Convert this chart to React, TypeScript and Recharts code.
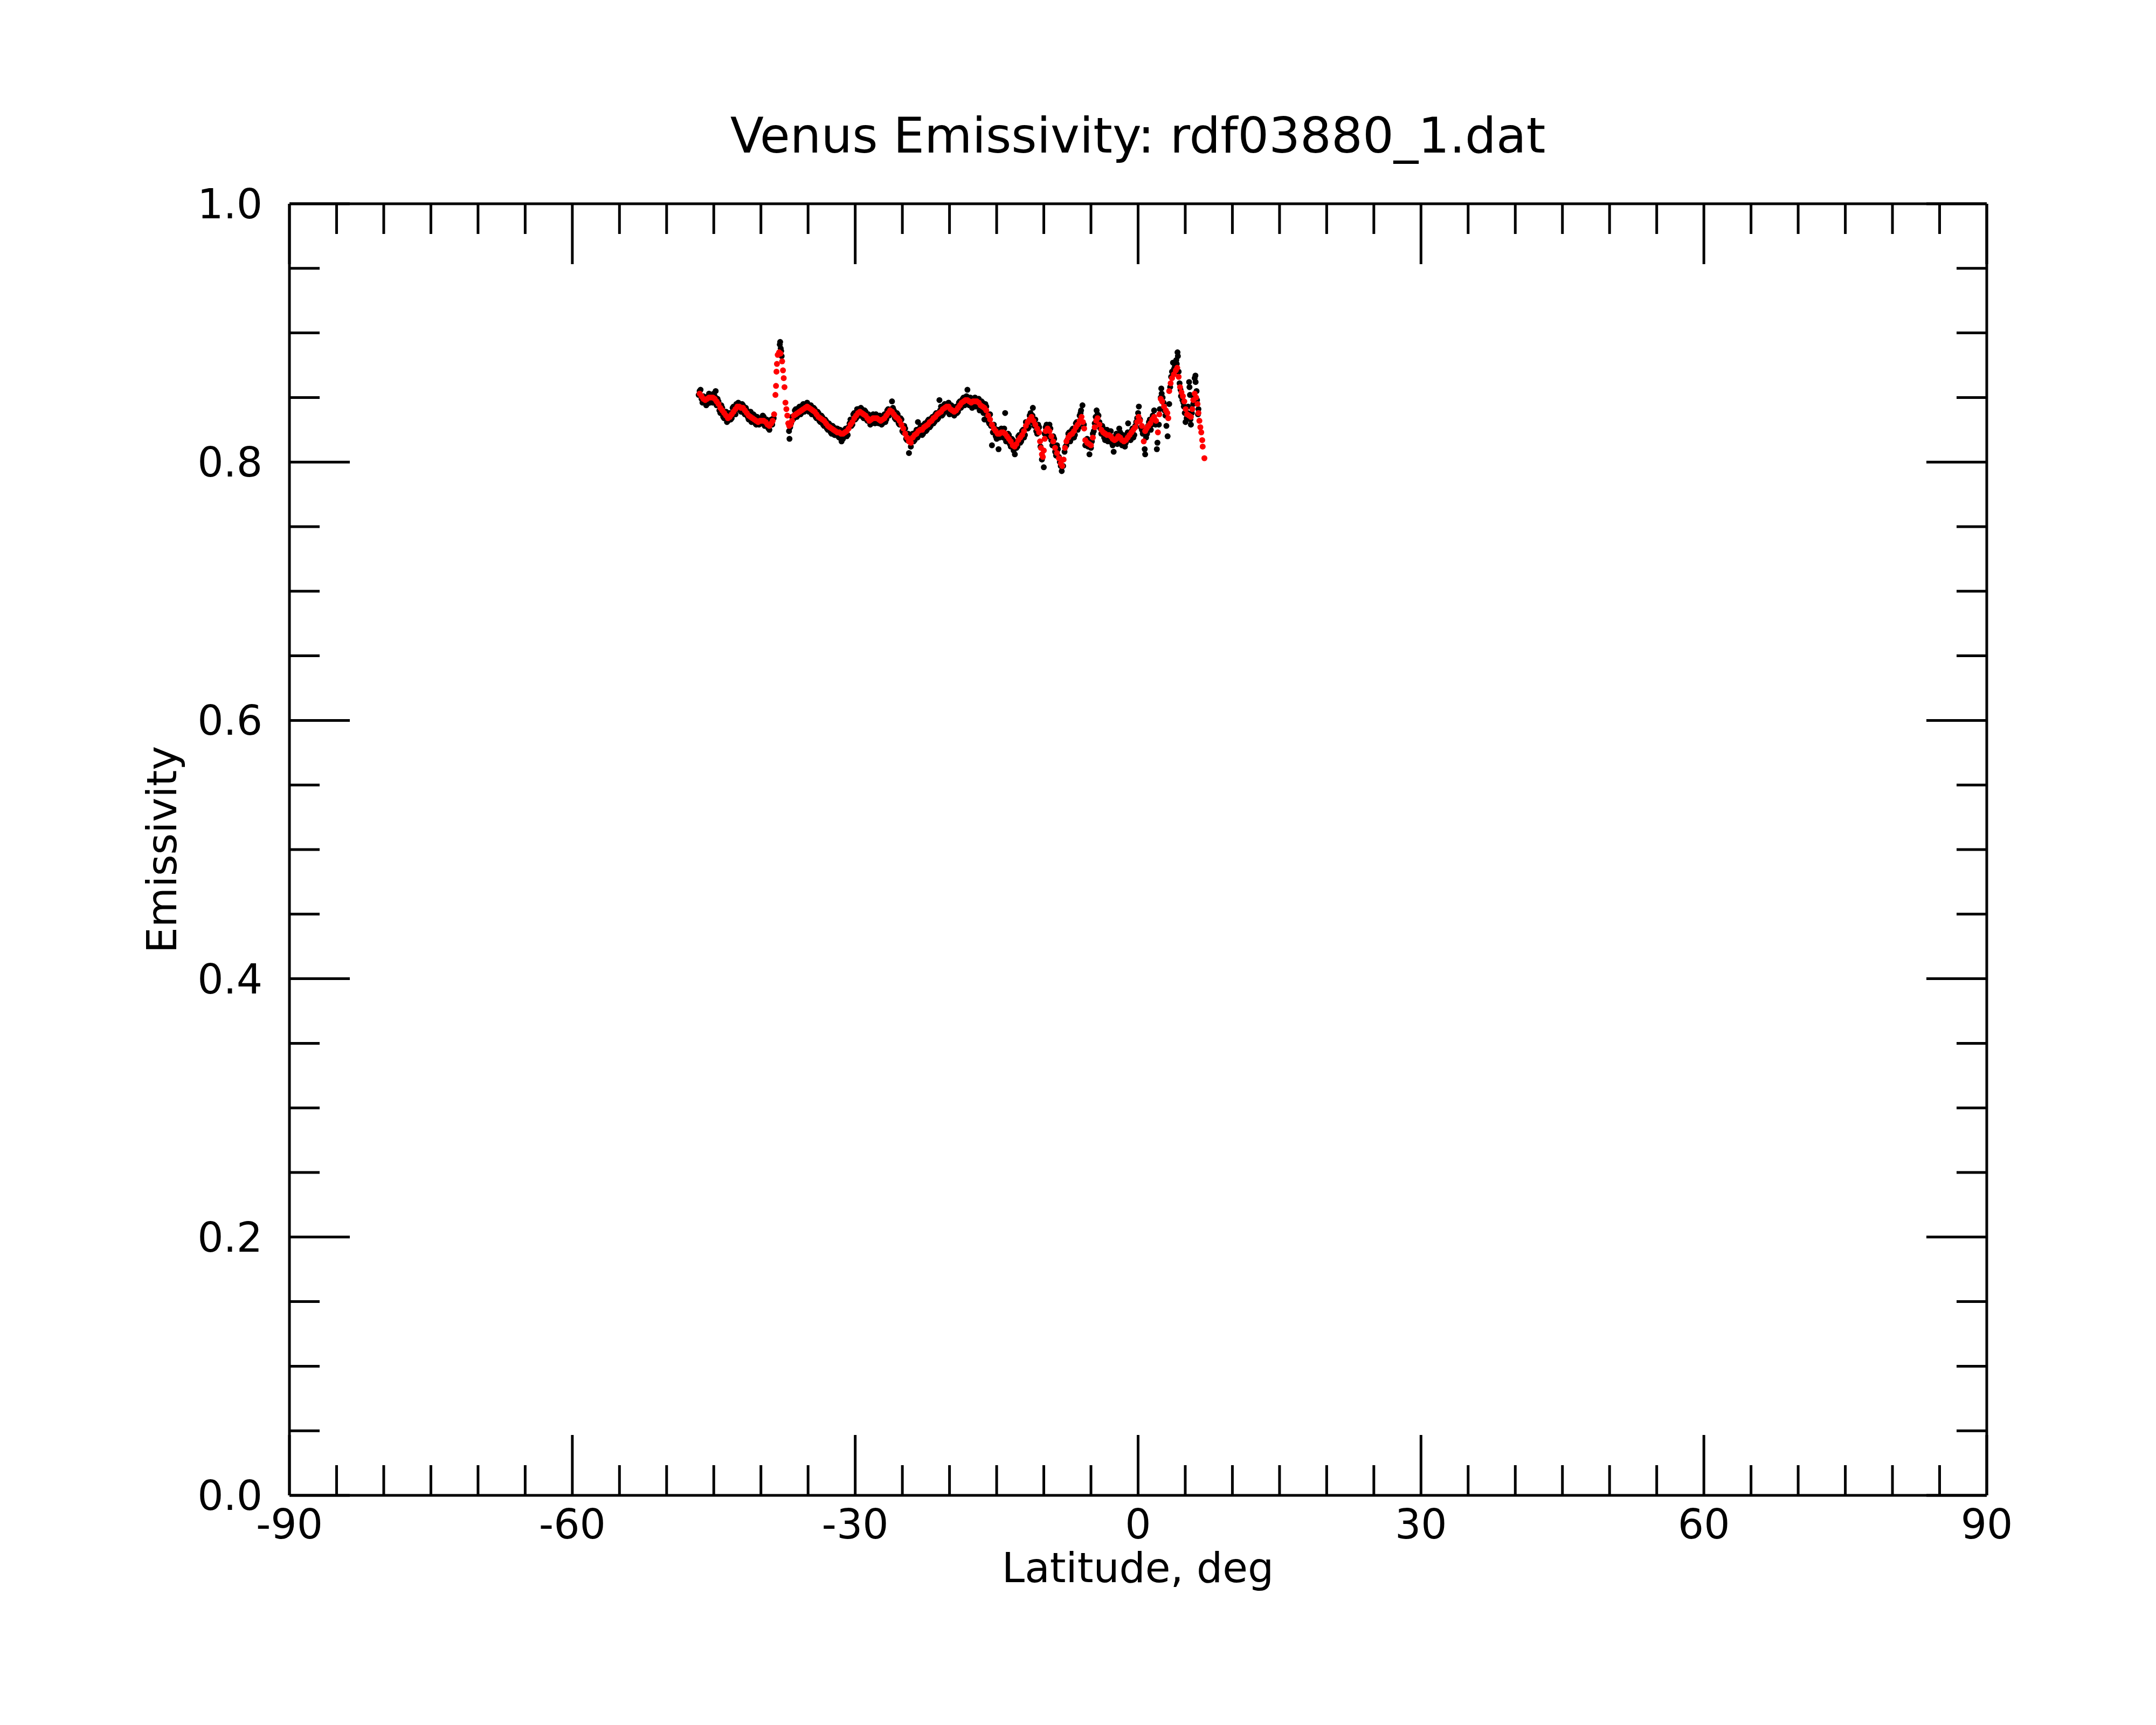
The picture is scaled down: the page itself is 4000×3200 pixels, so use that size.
import { ScatterChart, Scatter, XAxis, YAxis } from 'recharts'

const chartTitle = 'Venus Emissivity: rdf03880_1.dat'
const xTitle = 'Latitude, deg'
const yTitle = 'Emissivity'

const latMajorTicks = [-90, -60, -30, 0, 30, 60, 90]
const latMinorTicks = [
  -85, -80, -75, -70, -65, -55, -50, -45, -40, -35, -25, -20, -15, -10, -5,
  5, 10, 15, 20, 25, 35, 40, 45, 50, 55, 65, 70, 75, 80, 85,
]
const emisMajorTicks = [0, 0.2, 0.4, 0.6, 0.8, 1.0]
const emisMinorTicks = [
  0.05, 0.1, 0.15, 0.25, 0.3, 0.35, 0.45, 0.5, 0.55, 0.65, 0.7, 0.75, 0.85, 0.9, 0.95,
]

// raw emissivity samples (black)
const rawPoints: [number, number][] = [
  [-46.6, 0.852], [-46.5, 0.855], [-46.4, 0.856], [-46.2, 0.846], [-46.0, 0.847], [-45.8, 0.844],
  [-45.6, 0.851], [-45.4, 0.846], [-45.2, 0.848], [-45.0, 0.853], [-44.8, 0.855], [-44.6, 0.849],
  [-44.4, 0.840], [-44.2, 0.844], [-44.0, 0.835], [-43.8, 0.838], [-43.6, 0.831], [-43.4, 0.837],
  [-43.2, 0.833], [-43.0, 0.842], [-42.8, 0.838], [-42.6, 0.845], [-42.4, 0.846], [-42.2, 0.840],
  [-42.0, 0.845], [-41.8, 0.838], [-41.6, 0.842], [-41.4, 0.835], [-41.2, 0.838], [-41.0, 0.831],
  [-40.8, 0.837], [-40.6, 0.830], [-40.4, 0.835], [-40.2, 0.829], [-40.0, 0.834], [-39.8, 0.836],
  [-39.6, 0.828], [-39.4, 0.833], [-39.2, 0.826], [-39.0, 0.832], [-38.8, 0.829], [-38.65, 0.834],
  [-38.0, 0.891], [-37.96, 0.893], [-37.9, 0.888], [-37.85, 0.886], [-37.8, 0.882],
  [-37.02, 0.824], [-36.97, 0.818], [-36.8, 0.830], [-36.6, 0.833], [-36.4, 0.840], [-36.2, 0.835],
  [-36.0, 0.842], [-35.8, 0.837], [-35.6, 0.844], [-35.4, 0.839], [-35.2, 0.845], [-35.0, 0.840],
  [-34.8, 0.843], [-34.6, 0.837], [-34.4, 0.842], [-34.2, 0.835], [-34.0, 0.839], [-33.8, 0.832],
  [-33.6, 0.836], [-33.4, 0.829], [-33.2, 0.833], [-33.0, 0.826], [-32.8, 0.830], [-32.6, 0.823],
  [-32.4, 0.828], [-32.2, 0.821], [-32.0, 0.826], [-31.8, 0.820], [-31.6, 0.825], [-31.45, 0.816],
  [-31.2, 0.820], [-31.0, 0.826], [-30.8, 0.821], [-30.6, 0.830], [-30.4, 0.828], [-30.2, 0.837],
  [-30.0, 0.833], [-29.8, 0.841], [-29.6, 0.836], [-29.4, 0.842], [-29.2, 0.835], [-29.0, 0.840],
  [-28.8, 0.833], [-28.6, 0.837], [-28.4, 0.829], [-28.2, 0.836], [-28.0, 0.831], [-27.8, 0.837],
  [-27.6, 0.832], [-27.4, 0.836], [-27.2, 0.829], [-27.0, 0.835], [-26.8, 0.831], [-26.6, 0.840],
  [-26.4, 0.836], [-26.1, 0.847], [-26.0, 0.842], [-25.8, 0.834], [-25.6, 0.838], [-25.4, 0.830],
  [-25.2, 0.834], [-25.0, 0.824], [-24.8, 0.828], [-24.6, 0.818], [-24.4, 0.822], [-24.3, 0.807],
  [-24.1, 0.812], [-23.9, 0.822], [-23.7, 0.817], [-23.5, 0.825], [-23.35, 0.831], [-23.2, 0.821],
  [-23.0, 0.828], [-22.8, 0.822], [-22.6, 0.830], [-22.4, 0.825], [-22.2, 0.833], [-22.0, 0.828],
  [-21.8, 0.835], [-21.6, 0.831], [-21.4, 0.838], [-21.2, 0.834], [-21.07, 0.848], [-20.9, 0.843],
  [-20.7, 0.837], [-20.5, 0.845], [-20.3, 0.840], [-20.1, 0.846], [-19.9, 0.838], [-19.7, 0.843],
  [-19.5, 0.836], [-19.3, 0.843], [-19.1, 0.839], [-18.9, 0.847], [-18.7, 0.843], [-18.5, 0.850],
  [-18.3, 0.845], [-18.1, 0.856], [-17.9, 0.844], [-17.7, 0.849], [-17.5, 0.843], [-17.3, 0.850],
  [-17.1, 0.844], [-16.9, 0.849], [-16.7, 0.841], [-16.5, 0.846], [-16.3, 0.833], [-16.1, 0.843],
  [-15.9, 0.832], [-15.7, 0.837], [-15.5, 0.813], [-15.3, 0.829], [-15.1, 0.820], [-14.9, 0.825],
  [-14.8, 0.810], [-14.5, 0.826], [-14.3, 0.819], [-14.1, 0.838], [-13.9, 0.817], [-13.7, 0.821],
  [-13.5, 0.812], [-13.3, 0.817], [-13.07, 0.806], [-12.9, 0.811], [-12.7, 0.820], [-12.5, 0.815],
  [-12.3, 0.824], [-12.1, 0.819], [-11.9, 0.831], [-11.7, 0.826], [-11.5, 0.836], [-11.3, 0.831],
  [-11.16, 0.842], [-10.9, 0.833], [-10.7, 0.822], [-10.5, 0.827], [-10.35, 0.812], [-10.2, 0.802],
  [-10.0, 0.796], [-9.9, 0.822], [-9.7, 0.829], [-9.5, 0.820], [-9.3, 0.826], [-9.1, 0.813],
  [-8.9, 0.818], [-8.7, 0.805], [-8.5, 0.810], [-8.3, 0.800], [-8.1, 0.793], [-7.95, 0.797],
  [-7.8, 0.808], [-7.6, 0.813], [-7.4, 0.822], [-7.2, 0.816], [-7.0, 0.825], [-6.8, 0.819],
  [-6.6, 0.830], [-6.4, 0.825], [-6.2, 0.836], [-6.05, 0.840], [-5.9, 0.844], [-5.75, 0.829],
  [-5.6, 0.813], [-5.4, 0.818], [-5.16, 0.806], [-5.0, 0.811], [-4.8, 0.822], [-4.6, 0.830],
  [-4.4, 0.840], [-4.2, 0.836], [-4.0, 0.826], [-3.8, 0.828], [-3.6, 0.819], [-3.4, 0.824],
  [-3.2, 0.816], [-3.0, 0.823], [-2.8, 0.815], [-2.59, 0.808], [-2.4, 0.820], [-2.2, 0.814],
  [-2.0, 0.826], [-1.8, 0.815], [-1.6, 0.821], [-1.4, 0.812], [-1.2, 0.819], [-1.06, 0.830],
  [-0.8, 0.817], [-0.6, 0.826], [-0.4, 0.821], [-0.2, 0.831], [0.0, 0.838], [0.08, 0.843],
  [0.3, 0.827], [0.5, 0.822], [0.7, 0.810], [0.75, 0.806], [0.95, 0.822], [1.15, 0.831],
  [1.35, 0.825], [1.55, 0.836], [1.7, 0.840], [1.85, 0.829], [1.99, 0.810], [2.05, 0.815],
  [2.3, 0.841], [2.46, 0.857], [2.5, 0.853], [2.7, 0.846], [2.9, 0.836], [3.0, 0.828],
  [3.13, 0.820], [3.3, 0.845], [3.5, 0.866], [3.7, 0.877], [3.9, 0.874], [4.05, 0.879],
  [4.18, 0.885], [4.22, 0.882], [4.4, 0.861], [4.55, 0.851], [4.7, 0.848], [4.85, 0.843],
  [5.03, 0.831], [5.15, 0.834], [5.3, 0.843], [5.41, 0.862], [5.45, 0.858], [5.6, 0.829],
  [5.7, 0.838], [5.85, 0.845], [6.0, 0.865], [6.08, 0.867], [6.1, 0.862], [6.25, 0.848],
  [6.4, 0.841],
  // in-between samples
  [-46.3, 0.849], [-46.1, 0.851], [-45.9, 0.846], [-45.7, 0.845], [-45.5, 0.853], [-45.3, 0.852],
  [-45.1, 0.846], [-44.9, 0.851], [-44.7, 0.844], [-44.5, 0.847], [-44.3, 0.838], [-44.1, 0.842],
  [-43.9, 0.834], [-43.7, 0.839], [-43.5, 0.832], [-43.3, 0.838], [-43.1, 0.834], [-42.9, 0.843],
  [-42.7, 0.837], [-42.5, 0.841], [-42.3, 0.845], [-42.1, 0.839], [-41.9, 0.844], [-41.7, 0.837],
  [-41.5, 0.840], [-41.3, 0.833], [-41.1, 0.839], [-40.9, 0.832], [-40.7, 0.836], [-40.5, 0.829],
  [-40.3, 0.834], [-40.1, 0.830], [-39.9, 0.830], [-39.7, 0.835], [-39.5, 0.828], [-39.3, 0.832],
  [-39.1, 0.825], [-38.9, 0.833],
  [-36.9, 0.827], [-36.7, 0.835], [-36.5, 0.834], [-36.3, 0.841], [-36.1, 0.836], [-35.9, 0.843],
  [-35.7, 0.838], [-35.5, 0.845], [-35.3, 0.840], [-35.1, 0.846], [-34.9, 0.839], [-34.7, 0.844],
  [-34.5, 0.838], [-34.3, 0.841], [-34.1, 0.834], [-33.9, 0.838], [-33.7, 0.831], [-33.5, 0.835],
  [-33.3, 0.828], [-33.1, 0.832], [-32.9, 0.825], [-32.7, 0.829], [-32.5, 0.822], [-32.3, 0.827],
  [-32.1, 0.821], [-31.9, 0.826], [-31.7, 0.819], [-31.5, 0.824], [-31.3, 0.818], [-31.1, 0.825],
  [-30.9, 0.820], [-30.7, 0.827], [-30.5, 0.833], [-30.3, 0.829], [-30.1, 0.838], [-29.9, 0.834],
  [-29.7, 0.841], [-29.5, 0.836], [-29.3, 0.841], [-29.1, 0.834], [-28.9, 0.839], [-28.7, 0.832],
  [-28.5, 0.836], [-28.3, 0.830], [-28.1, 0.837], [-27.9, 0.830], [-27.7, 0.836], [-27.5, 0.830],
  [-27.3, 0.835], [-27.1, 0.830], [-26.9, 0.837], [-26.7, 0.833], [-26.5, 0.841], [-26.3, 0.837],
  [-25.9, 0.840], [-25.7, 0.833], [-25.5, 0.837], [-25.3, 0.829], [-25.1, 0.833], [-24.9, 0.823],
  [-24.7, 0.826], [-24.5, 0.817], [-24.2, 0.819], [-23.8, 0.816], [-23.6, 0.823], [-23.4, 0.819],
  [-23.1, 0.827], [-22.9, 0.821], [-22.7, 0.829], [-22.5, 0.824], [-22.3, 0.832], [-22.1, 0.827],
  [-21.9, 0.834], [-21.7, 0.830], [-21.5, 0.837], [-21.3, 0.833], [-21.0, 0.840], [-20.8, 0.836],
  [-20.6, 0.844], [-20.4, 0.839], [-20.2, 0.845], [-20.0, 0.837], [-19.8, 0.844], [-19.6, 0.837],
  [-19.4, 0.842], [-19.2, 0.838], [-19.0, 0.846], [-18.8, 0.842], [-18.6, 0.849], [-18.4, 0.844],
  [-18.2, 0.851], [-18.0, 0.845], [-17.8, 0.850], [-17.6, 0.842], [-17.4, 0.849], [-17.2, 0.843],
  [-17.0, 0.848], [-16.8, 0.840], [-16.6, 0.847], [-16.4, 0.838], [-16.2, 0.845], [-16.0, 0.836],
  [-15.8, 0.830], [-15.6, 0.828], [-15.4, 0.823], [-15.2, 0.826], [-15.0, 0.818], [-14.7, 0.819],
  [-14.6, 0.825], [-14.4, 0.820], [-14.2, 0.826], [-14.0, 0.816], [-13.8, 0.822], [-13.6, 0.814],
  [-13.4, 0.818], [-13.2, 0.809], [-13.0, 0.815], [-12.8, 0.812], [-12.6, 0.821], [-12.4, 0.816],
  [-12.2, 0.825], [-12.0, 0.821], [-11.8, 0.830], [-11.6, 0.827], [-11.4, 0.838], [-11.2, 0.836],
  [-11.0, 0.828], [-10.8, 0.824], [-10.6, 0.829],
  [-9.8, 0.827], [-9.6, 0.823], [-9.4, 0.829], [-9.2, 0.817], [-9.0, 0.820], [-8.8, 0.808],
  [-8.6, 0.813], [-8.4, 0.804], [-8.2, 0.797], [-7.7, 0.812], [-7.5, 0.817], [-7.3, 0.823],
  [-7.1, 0.818], [-6.9, 0.826], [-6.7, 0.821], [-6.5, 0.831], [-6.3, 0.827], [-6.1, 0.838],
  [-5.3, 0.812], [-4.9, 0.816], [-4.7, 0.824], [-4.5, 0.835], [-4.3, 0.837], [-4.1, 0.831],
  [-3.9, 0.822], [-3.7, 0.826], [-3.5, 0.817], [-3.3, 0.825], [-3.1, 0.818], [-2.9, 0.824],
  [-2.7, 0.813], [-2.5, 0.818], [-2.3, 0.822], [-2.1, 0.816], [-1.9, 0.823], [-1.7, 0.813],
  [-1.5, 0.819], [-1.3, 0.815], [-1.1, 0.823], [-0.9, 0.818], [-0.7, 0.824], [-0.5, 0.819],
  [-0.3, 0.828], [-0.1, 0.834], [0.2, 0.833], [0.4, 0.825], [0.85, 0.819], [1.05, 0.828],
  [1.25, 0.833], [1.45, 0.829], [1.65, 0.834], [2.2, 0.829], [2.4, 0.850], [2.6, 0.850],
  [2.8, 0.840], [3.4, 0.858], [3.6, 0.870], [3.8, 0.872], [4.1, 0.876], [4.3, 0.870],
  [4.5, 0.856], [4.8, 0.846], [4.95, 0.838], [5.25, 0.838], [5.5, 0.852], [5.55, 0.833],
  [5.9, 0.850], [6.2, 0.855], [6.35, 0.837],
]

// smoothed emissivity (red)
const smoothPoints: [number, number][] = [
  [-46.5, 0.853], [-46.3, 0.851], [-46.1, 0.849], [-45.9, 0.848], [-45.7, 0.849], [-45.5, 0.850],
  [-45.3, 0.850], [-45.1, 0.850], [-44.9, 0.849], [-44.7, 0.847], [-44.5, 0.845], [-44.3, 0.842],
  [-44.1, 0.840], [-43.9, 0.838], [-43.7, 0.836], [-43.5, 0.834], [-43.3, 0.835], [-43.1, 0.837],
  [-42.9, 0.839], [-42.7, 0.841], [-42.5, 0.843], [-42.3, 0.843], [-42.1, 0.842], [-41.9, 0.842],
  [-41.7, 0.840], [-41.5, 0.838], [-41.3, 0.836], [-41.1, 0.835], [-40.9, 0.834], [-40.7, 0.833],
  [-40.5, 0.832], [-40.3, 0.831], [-40.1, 0.832], [-39.9, 0.832], [-39.7, 0.832], [-39.5, 0.831],
  [-39.3, 0.829], [-39.1, 0.828], [-38.9, 0.830], [-38.75, 0.832], [-38.6, 0.837],
  [-38.46, 0.852], [-38.4, 0.859], [-38.35, 0.870], [-38.3, 0.876], [-38.22, 0.883], [-38.07, 0.885],
  [-37.92, 0.884], [-37.75, 0.878], [-37.66, 0.871], [-37.58, 0.865], [-37.5, 0.858], [-37.4, 0.846],
  [-37.3, 0.841], [-37.2, 0.836], [-37.1, 0.830], [-37.0, 0.828],
  [-36.85, 0.829], [-36.7, 0.832], [-36.5, 0.836], [-36.3, 0.837], [-36.1, 0.838], [-35.9, 0.839],
  [-35.7, 0.840], [-35.5, 0.841], [-35.3, 0.842], [-35.1, 0.843], [-34.9, 0.842], [-34.7, 0.841],
  [-34.5, 0.840], [-34.3, 0.839], [-34.1, 0.837], [-33.9, 0.835], [-33.7, 0.834], [-33.5, 0.833],
  [-33.3, 0.832], [-33.1, 0.830], [-32.9, 0.828], [-32.7, 0.827], [-32.5, 0.826], [-32.3, 0.825],
  [-32.1, 0.824], [-31.9, 0.823], [-31.7, 0.823], [-31.5, 0.822], [-31.3, 0.822], [-31.1, 0.823],
  [-30.9, 0.824], [-30.7, 0.826], [-30.5, 0.829], [-30.3, 0.831], [-30.1, 0.834], [-29.9, 0.836],
  [-29.7, 0.838], [-29.5, 0.839], [-29.3, 0.838], [-29.1, 0.837], [-28.9, 0.836], [-28.7, 0.834],
  [-28.5, 0.832], [-28.3, 0.833], [-28.1, 0.834], [-27.9, 0.834], [-27.7, 0.834], [-27.5, 0.833],
  [-27.3, 0.832], [-27.1, 0.833], [-26.9, 0.834], [-26.7, 0.836], [-26.5, 0.838], [-26.3, 0.840],
  [-26.1, 0.839], [-25.9, 0.837], [-25.7, 0.835], [-25.5, 0.834], [-25.3, 0.832], [-25.1, 0.829],
  [-24.9, 0.826], [-24.7, 0.822], [-24.5, 0.819], [-24.3, 0.816], [-24.1, 0.815], [-23.9, 0.819],
  [-23.7, 0.821], [-23.5, 0.822], [-23.3, 0.824], [-23.1, 0.825], [-22.9, 0.825], [-22.7, 0.827],
  [-22.5, 0.828], [-22.3, 0.829], [-22.1, 0.831], [-21.9, 0.832], [-21.7, 0.834], [-21.5, 0.835],
  [-21.3, 0.837], [-21.1, 0.838], [-20.9, 0.839], [-20.7, 0.841], [-20.5, 0.842], [-20.3, 0.843],
  [-20.1, 0.843], [-19.9, 0.841], [-19.7, 0.840], [-19.5, 0.839], [-19.3, 0.840], [-19.1, 0.842],
  [-18.9, 0.844], [-18.7, 0.846], [-18.5, 0.847], [-18.3, 0.848], [-18.1, 0.848], [-17.9, 0.847],
  [-17.7, 0.846], [-17.5, 0.847], [-17.3, 0.847], [-17.1, 0.847], [-16.9, 0.846], [-16.7, 0.844],
  [-16.5, 0.843], [-16.3, 0.842], [-16.1, 0.840], [-15.9, 0.836], [-15.7, 0.833], [-15.5, 0.829],
  [-15.3, 0.826], [-15.1, 0.824], [-14.9, 0.822], [-14.7, 0.822], [-14.5, 0.823], [-14.3, 0.823],
  [-14.1, 0.822], [-13.9, 0.820], [-13.7, 0.818], [-13.5, 0.816], [-13.3, 0.813], [-13.1, 0.812],
  [-12.9, 0.814], [-12.7, 0.817], [-12.5, 0.819], [-12.3, 0.821], [-12.1, 0.824], [-11.9, 0.828],
  [-11.7, 0.831], [-11.5, 0.833], [-11.3, 0.835], [-11.1, 0.832], [-10.9, 0.829], [-10.7, 0.826],
  [-10.5, 0.823], [-10.4, 0.816], [-10.3, 0.811], [-10.2, 0.806], [-10.1, 0.804], [-10.0, 0.809],
  [-9.9, 0.818], [-9.8, 0.824], [-9.6, 0.826], [-9.4, 0.824], [-9.2, 0.820], [-9.0, 0.816],
  [-8.8, 0.811], [-8.6, 0.807], [-8.4, 0.803], [-8.2, 0.799], [-8.05, 0.797], [-7.9, 0.802],
  [-7.75, 0.811], [-7.6, 0.816], [-7.4, 0.819], [-7.2, 0.821], [-7.0, 0.822], [-6.8, 0.824],
  [-6.6, 0.827], [-6.4, 0.829], [-6.2, 0.832], [-6.0, 0.835], [-5.85, 0.831], [-5.72, 0.826],
  [-5.6, 0.817], [-5.4, 0.815], [-5.2, 0.814], [-5.0, 0.813], [-4.8, 0.819], [-4.6, 0.827],
  [-4.45, 0.832], [-4.3, 0.834], [-4.1, 0.829], [-3.9, 0.825], [-3.7, 0.823], [-3.5, 0.822],
  [-3.3, 0.821], [-3.1, 0.821], [-2.9, 0.820], [-2.7, 0.818], [-2.5, 0.817], [-2.3, 0.818],
  [-2.1, 0.820], [-1.9, 0.819], [-1.7, 0.817], [-1.5, 0.816], [-1.3, 0.817], [-1.1, 0.819],
  [-0.9, 0.821], [-0.7, 0.823], [-0.5, 0.825], [-0.3, 0.827], [-0.1, 0.831], [0.05, 0.835],
  [0.2, 0.832], [0.4, 0.828], [0.6, 0.816], [0.75, 0.824], [0.9, 0.826], [1.1, 0.828],
  [1.3, 0.830], [1.5, 0.833], [1.7, 0.835], [1.9, 0.832], [2.1, 0.823], [2.25, 0.837],
  [2.4, 0.849], [2.55, 0.847], [2.75, 0.843], [2.95, 0.840], [3.1, 0.838], [3.2, 0.834],
  [3.3, 0.855], [3.45, 0.861], [3.6, 0.865], [3.8, 0.868], [4.0, 0.871], [4.15, 0.873],
  [4.3, 0.866], [4.45, 0.858], [4.6, 0.854], [4.75, 0.851], [4.9, 0.847], [5.05, 0.841],
  [5.2, 0.837], [5.4, 0.836], [5.6, 0.835], [5.75, 0.841], [5.85, 0.848], [6.0, 0.853],
  [6.15, 0.850], [6.3, 0.845], [6.4, 0.838], [6.5, 0.832], [6.6, 0.827], [6.7, 0.823],
  [6.8, 0.817], [6.85, 0.812], [7.03, 0.803],
]

const rawData = rawPoints.map(([lat, emis]) => ({ lat, emis }))
const smoothData = smoothPoints.map(([lat, emis]) => ({ lat, emis }))

const FONT = 'DejaVu Sans'
const frame = { stroke: '#000', strokeWidth: 5 }
const tickFont = { fill: '#000', fontSize: 76, fontFamily: FONT }

// tick lines only, no label
const noLabel = () => <g />

const dot = (color: string, r: number) => (props: any) =>
  <circle cx={props.cx} cy={props.cy} r={r} fill={color} />

export default function App() {
  return (
    <div style={{ width: 3992, height: 3100 }}>
      <ScatterChart
        width={3992}
        height={3100}
        margin={{ top: 368, right: 312, bottom: 134, left: 329 }}
      >
        {/* bottom: labels + major ticks, then minor ticks */}
        <XAxis
          xAxisId="bottom"
          dataKey="lat"
          type="number"
          domain={[-90, 90]}
          allowDataOverflow
          ticks={latMajorTicks}
          interval={0}
          height={200}
          tickSize={-112}
          tickMargin={138}
          stroke="#000"
          strokeWidth={5}
          axisLine={frame}
          tickLine={frame}
          tick={tickFont}
        />
        <XAxis
          xAxisId="bottomMinor"
          dataKey="lat"
          type="number"
          domain={[-90, 90]}
          allowDataOverflow
          ticks={latMinorTicks}
          interval={0}
          mirror
          tickSize={56}
          stroke="#000"
          strokeWidth={5}
          axisLine={false}
          tickLine={frame}
          tick={noLabel}
        />
        <XAxis
          xAxisId="top"
          dataKey="lat"
          orientation="top"
          type="number"
          domain={[-90, 90]}
          allowDataOverflow
          ticks={latMajorTicks}
          interval={0}
          height={2}
          tickSize={-112}
          stroke="#000"
          strokeWidth={5}
          axisLine={frame}
          tickLine={frame}
          tick={noLabel}
        />
        <XAxis
          xAxisId="topMinor"
          dataKey="lat"
          orientation="top"
          type="number"
          domain={[-90, 90]}
          allowDataOverflow
          ticks={latMinorTicks}
          interval={0}
          mirror
          tickSize={56}
          stroke="#000"
          strokeWidth={5}
          axisLine={false}
          tickLine={frame}
          tick={noLabel}
        />
        <YAxis
          yAxisId="left"
          dataKey="emis"
          type="number"
          domain={[0, 1]}
          allowDataOverflow
          ticks={emisMajorTicks}
          interval={0}
          width={200}
          tickSize={-112}
          tickMargin={162}
          stroke="#000"
          strokeWidth={5}
          axisLine={frame}
          tickLine={frame}
          tick={tickFont}
          tickFormatter={(v: number) => v.toFixed(1)}
        />
        <YAxis
          yAxisId="leftMinor"
          type="number"
          domain={[0, 1]}
          allowDataOverflow
          ticks={emisMinorTicks}
          interval={0}
          mirror
          tickSize={56}
          stroke="#000"
          strokeWidth={5}
          axisLine={false}
          tickLine={frame}
          tick={noLabel}
        />
        <YAxis
          yAxisId="right"
          orientation="right"
          type="number"
          domain={[0, 1]}
          allowDataOverflow
          ticks={emisMajorTicks}
          interval={0}
          width={2}
          tickSize={-112}
          stroke="#000"
          strokeWidth={5}
          axisLine={frame}
          tickLine={frame}
          tick={noLabel}
        />
        <YAxis
          yAxisId="rightMinor"
          orientation="right"
          type="number"
          domain={[0, 1]}
          allowDataOverflow
          ticks={emisMinorTicks}
          interval={0}
          mirror
          tickSize={56}
          stroke="#000"
          strokeWidth={5}
          axisLine={false}
          tickLine={frame}
          tick={noLabel}
        />

        <Scatter
          xAxisId="bottom"
          yAxisId="left"
          data={rawData}
          fill="#000"
          shape={dot('#000', 5.5)}
          isAnimationActive={false}
        />
        <Scatter
          xAxisId="bottom"
          yAxisId="left"
          data={smoothData}
          fill="#ff0000"
          shape={dot('#ff0000', 5.5)}
          isAnimationActive={false}
        />

        <text x={2103} y={275} textAnchor="middle" fontSize={91} fontFamily={FONT} fill="#000">
          {chartTitle}
        </text>
        <text x={2103} y={2927} textAnchor="middle" fontSize={76} fontFamily={FONT} fill="#000">
          {xTitle}
        </text>
        <text
          transform="translate(319,1568) rotate(-90)"
          textAnchor="middle"
          fontSize={76}
          fontFamily={FONT}
          fill="#000"
        >
          {yTitle}
        </text>
      </ScatterChart>
    </div>
  )
}
